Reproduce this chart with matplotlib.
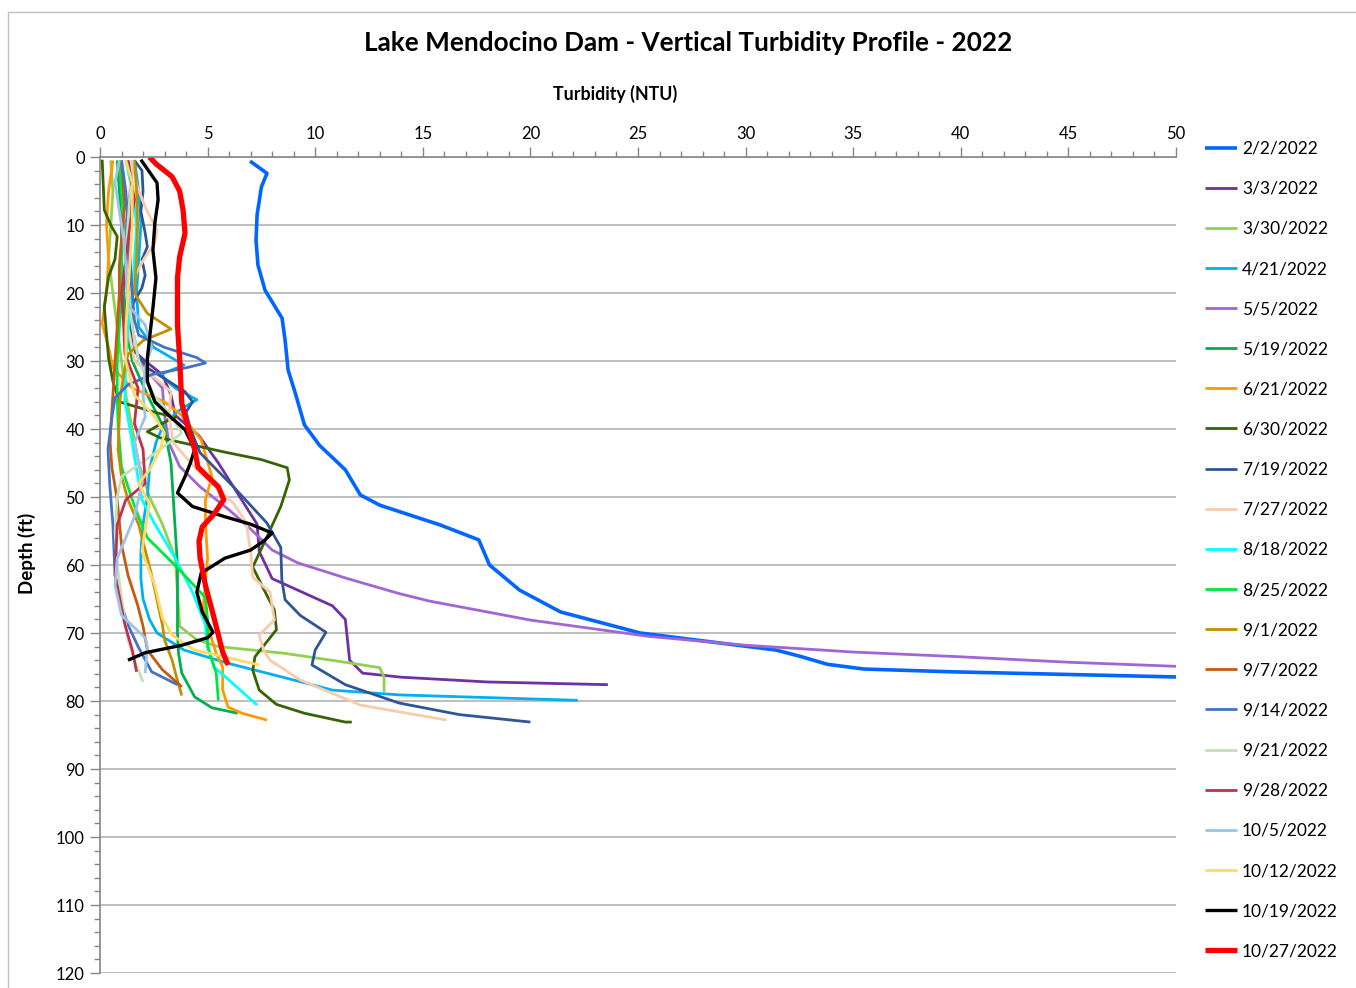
import matplotlib
matplotlib.use("Agg")
import matplotlib.pyplot as plt
from matplotlib.patches import Rectangle
from matplotlib.ticker import MultipleLocator

plt.rcParams['font.family'] = ['Lato', 'DejaVu Sans']

# depth (ft) / turbidity (NTU), one pair per survey date
d_0202 = [0.6, 2.4, 4.4, 8.5, 12.2, 15.9, 19.6, 23.7, 26.9, 31.3, 35, 39.4, 42.4, 46, 49.7, 51.2, 54.1, 56.3, 60, 63.7, 66.9, 70, 72.5, 73.4, 74.6, 75.3, 75.7, 76.1, 76.5]
t_0202 = [6.97, 7.76, 7.5, 7.3, 7.25, 7.34, 7.67, 8.46, 8.6, 8.74, 9.1, 9.5, 10.2, 11.4, 12.1, 13.0, 15.8, 17.6, 18.1, 19.5, 21.4, 25.1, 31.4, 32.5, 33.8, 35.5, 39.5, 45.0, 50.5]

d_0303 = [0.5, 5, 10, 15, 20, 25, 28, 30, 32, 35, 38, 41, 45, 50, 54, 58, 62, 66, 68, 71, 74, 75.9, 76.5, 77.2, 77.6]
t_0303 = [1.3, 1.5, 1.3, 1.2, 1.1, 1.2, 1.4, 2.1, 2.9, 3.3, 3.5, 4.6, 5.5, 6.5, 7.3, 7.4, 8.0, 10.8, 11.4, 11.5, 11.6, 12.2, 14.0, 18.0, 23.6]

d_0330 = [0.5, 5, 10, 15, 20, 25, 30, 35, 40, 45, 50, 54, 59, 64, 69, 71, 72, 73, 74.4, 75.1, 76.5, 78.7]
t_0330 = [0.5, 0.6, 0.5, 0.4, 0.6, 0.8, 1.0, 1.2, 1.5, 1.8, 2.3, 2.9, 3.5, 3.6, 3.7, 4.5, 5.5, 8.6, 11.6, 13.0, 13.2, 13.2]

d_0421 = [0.5, 5, 10, 15, 20, 25, 28, 30.6, 32, 34, 35.7, 37, 39, 42, 46, 50, 54, 58, 62, 65, 68, 70, 72.5, 74.5, 75.9, 77.4, 78.4, 79.1, 79.5, 79.9]
t_0421 = [1.6, 1.8, 1.9, 1.8, 1.7, 1.8, 2.5, 3.9, 2.8, 3.5, 4.5, 3.8, 3.0, 2.6, 2.3, 2.2, 2.0, 1.9, 1.9, 2.0, 2.3, 2.65, 3.9, 6.0, 7.75, 9.6, 10.8, 13.9, 18.0, 22.2]

d_0505 = [0.5, 5, 10, 15, 20, 25, 30, 34, 38, 42, 45.5, 48.5, 51.9, 54.4, 57.8, 59.7, 62, 64.2, 65.3, 68.1, 70.5, 71.8, 72.8, 73.5, 74.3, 74.9]
t_0505 = [1.5, 1.4, 1.2, 1.3, 1.4, 1.5, 1.8, 2.9, 3.0, 3.2, 3.7, 4.65, 6.0, 6.9, 8.0, 9.2, 11.5, 13.9, 15.3, 20.0, 25.5, 30.0, 35.0, 40.0, 45.0, 50.0]

d_0519 = [0.5, 5, 10, 15, 20, 25, 30, 35, 40, 45, 50, 55, 60, 65, 70, 73, 75.9, 79.4, 81, 81.8]
t_0519 = [0.8, 0.9, 1.0, 1.0, 1.1, 1.2, 1.5, 2.2, 3.0, 3.3, 3.4, 3.5, 3.6, 3.6, 3.6, 3.65, 3.8, 4.4, 5.2, 6.4]

d_0621 = [0.5, 5, 10, 15, 20, 24.5, 28, 31, 34, 36, 38, 41.6, 47, 50.4, 54, 59, 66, 70, 73, 75, 78.4, 80.9, 81.8, 82.8]
t_0621 = [0.6, 0.4, 0.3, 0.4, 0.3, 0.1, 0.4, 0.6, 1.5, 3.0, 3.8, 4.7, 5.2, 4.9, 4.9, 5.0, 4.8, 5.1, 5.4, 5.7, 5.7, 5.95, 6.6, 7.76]

d_0630 = [0.4, 4, 7.8, 10, 11.7, 15, 17.6, 22, 26, 29.6, 33, 36, 37.5, 38.3, 39.3, 40.4, 41.3, 42.6, 43.4, 44.5, 45.7, 47.5, 51.4, 55.9, 60.3, 63.5, 66.6, 69.5, 71.5, 73.5, 75.5, 78.4, 80.5, 81.8, 83.1, 83.1]
t_0630 = [0.1, 0.15, 0.2, 0.5, 0.8, 0.7, 0.4, 0.2, 0.3, 0.4, 0.6, 0.9, 2.5, 3.5, 2.8, 2.2, 2.8, 4.65, 5.8, 7.5, 8.7, 8.8, 8.4, 7.75, 7.1, 7.6, 8.1, 8.2, 7.7, 7.2, 7.1, 7.4, 8.2, 9.5, 11.4, 11.7]

d_0719 = [0.5, 2, 5, 8, 11.2, 13.2, 15.1, 17.4, 19.2, 21.8, 25, 28, 31, 33, 34.5, 36, 37.5, 40, 43.5, 48.5, 53.8, 57.4, 62.2, 65.1, 67.4, 69.9, 72.5, 74.7, 77.6, 80.3, 82, 83.1]
t_0719 = [1.6, 1.95, 2.0, 1.9, 2.1, 2.2, 1.95, 2.1, 1.95, 1.5, 1.4, 1.5, 2.2, 3.2, 3.95, 4.3, 4.0, 4.2, 4.65, 6.2, 7.75, 8.4, 8.45, 8.6, 9.3, 10.5, 10.0, 9.85, 11.4, 13.9, 16.7, 20.0]

d_0727 = [0.5, 4, 7.4, 10.7, 12.7, 14.7, 17, 20, 25, 30, 34.5, 38, 42, 46, 50.9, 53.8, 58.2, 61.8, 64, 68.1, 70.3, 72.5, 74, 76.9, 80.6, 82.8]
t_0727 = [1.5, 1.7, 2.1, 2.65, 2.55, 2.1, 1.7, 1.4, 1.3, 1.6, 3.3, 3.2, 3.4, 4.5, 6.2, 6.8, 7.0, 7.1, 7.9, 8.1, 7.4, 7.6, 7.9, 9.3, 12.1, 16.1]

d_0818 = [0.5, 5, 10, 15, 20, 25, 30, 35.7, 42, 46, 50.4, 54, 59, 64, 68.8, 71, 73, 75, 77.5, 80.6]
t_0818 = [1.2, 1.5, 1.7, 1.6, 1.5, 1.3, 1.2, 1.15, 1.5, 1.7, 1.95, 2.55, 3.5, 4.3, 4.9, 4.95, 5.1, 5.3, 6.2, 7.3]

d_0825 = [0.5, 5, 10, 15, 20, 25, 30, 35.7, 40, 45.6, 50.4, 53, 56, 60.4, 64.8, 68, 72, 75.9, 79.9]
t_0825 = [0.9, 1.0, 1.1, 1.0, 1.0, 0.9, 0.8, 0.8, 0.85, 1.0, 1.5, 1.8, 2.2, 3.6, 4.9, 5.0, 5.0, 5.4, 5.5]

d_0901 = [0.5, 5, 10, 15, 20, 23, 25.3, 27, 29, 32, 35.7, 43, 47, 50.4, 54.1, 61.5, 68.8, 71, 74, 77, 79.2]
t_0901 = [1.6, 1.7, 1.75, 1.7, 1.6, 2.2, 3.3, 2.0, 1.3, 1.1, 0.93, 0.84, 1.0, 1.3, 1.8, 2.4, 2.9, 3.0, 3.35, 3.6, 3.8]

d_0907 = [0.5, 5, 7, 12, 16, 20, 25, 30, 35, 40, 42, 45.6, 50.4, 57, 61.5, 65.9, 69, 72.5, 75.4, 77.9]
t_0907 = [1.0, 1.1, 1.15, 1.0, 0.9, 0.9, 0.8, 0.7, 0.6, 0.5, 0.47, 0.55, 0.8, 1.0, 1.3, 1.75, 2.0, 2.2, 2.9, 3.8]

d_0914 = [0.5, 5, 10, 15, 20, 24, 26.2, 28, 29.5, 30.3, 31, 32, 33.5, 35.4, 38.2, 43, 48, 54.1, 61.5, 65, 68.8, 72, 75.7, 77.6]
t_0914 = [1.0, 1.2, 1.3, 1.4, 1.5, 1.6, 1.8, 3.0, 4.5, 4.9, 4.0, 2.4, 1.3, 0.7, 0.56, 0.37, 0.45, 0.6, 0.7, 0.9, 1.3, 1.77, 2.4, 3.6]

d_0921 = [0.5, 5, 10, 15, 20, 25, 30, 35, 38, 40.6, 42.5, 44.6, 47, 50, 55, 60, 65, 71, 74, 77.2]
t_0921 = [1.5, 1.4, 1.3, 1.2, 1.3, 1.5, 1.8, 2.5, 3.3, 3.8, 3.0, 2.1, 1.0, 0.8, 0.7, 0.8, 1.0, 1.3, 1.6, 2.0]

d_0928 = [0.5, 6.3, 10, 15, 20, 25, 29, 34, 39.2, 43, 48, 50.4, 54.1, 61.5, 68.8, 72.5, 75.7]
t_0928 = [1.3, 1.6, 1.4, 1.2, 1.0, 1.1, 1.16, 1.77, 1.6, 2.0, 2.1, 1.2, 0.8, 0.7, 1.16, 1.5, 1.7]

d_1005 = [0.5, 3.8, 8, 12, 16, 21.8, 24.7, 28, 31, 35, 38.2, 42, 45, 48, 52.9, 56, 59, 63, 67.4, 70.7, 72, 75.9]
t_1005 = [0.9, 0.7, 0.9, 1.1, 1.2, 1.3, 2.1, 2.4, 2.1, 2.0, 2.1, 1.6, 1.8, 1.95, 1.6, 1.2, 0.8, 0.7, 1.0, 2.1, 2.2, 2.1]

d_1012 = [0.5, 3.8, 10, 15, 20, 25, 30, 35, 38, 40.6, 43, 46, 48, 51, 54.8, 58, 63, 67.8, 70.3, 71.5, 72.5, 74.7]
t_1012 = [1.2, 1.5, 1.5, 1.4, 1.3, 1.2, 1.2, 1.6, 2.5, 3.0, 2.8, 2.3, 1.8, 2.3, 2.1, 1.95, 2.55, 2.9, 3.35, 3.9, 4.4, 7.4]

d_1019 = [0.4, 3.8, 6.3, 9.7, 13.7, 17.8, 22.2, 29.6, 33, 36, 38, 40.1, 43, 45, 47, 49.4, 51.4, 52.9, 54, 55.3, 56.5, 57.8, 59, 61.2, 64, 66.9, 69.9, 70.7, 71.8, 72.9, 74]
t_1019 = [1.9, 2.65, 2.7, 2.55, 2.46, 2.6, 2.46, 2.2, 2.2, 2.55, 3.2, 3.95, 4.4, 4.2, 3.95, 3.6, 4.3, 5.8, 7.0, 8.0, 7.6, 7.0, 5.8, 4.7, 4.5, 4.75, 5.25, 5.0, 3.8, 2.1, 1.3]

d_1027 = [0, 1, 2.9, 5, 7.8, 11.2, 14.7, 17.8, 24.7, 29.6, 36.2, 40, 43, 45.6, 47, 48.5, 50.4, 52.5, 54.4, 56.5, 59, 63, 67.8, 72.8, 74.7]
t_1027 = [2.3, 2.6, 3.35, 3.7, 3.86, 3.95, 3.7, 3.6, 3.6, 3.7, 3.8, 4.1, 4.4, 4.55, 5.0, 5.5, 5.75, 5.3, 4.75, 4.6, 4.65, 4.9, 5.3, 5.7, 5.95]

labels = ['2/2/2022', '3/3/2022', '3/30/2022', '4/21/2022', '5/5/2022', '5/19/2022',
          '6/21/2022', '6/30/2022', '7/19/2022', '7/27/2022', '8/18/2022', '8/25/2022',
          '9/1/2022', '9/7/2022', '9/14/2022', '9/21/2022', '9/28/2022', '10/5/2022',
          '10/12/2022', '10/19/2022', '10/27/2022']
depths = [d_0202, d_0303, d_0330, d_0421, d_0505, d_0519, d_0621, d_0630, d_0719, d_0727,
          d_0818, d_0825, d_0901, d_0907, d_0914, d_0921, d_0928, d_1005, d_1012, d_1019, d_1027]
turbs = [t_0202, t_0303, t_0330, t_0421, t_0505, t_0519, t_0621, t_0630, t_0719, t_0727,
         t_0818, t_0825, t_0901, t_0907, t_0914, t_0921, t_0928, t_1005, t_1012, t_1019, t_1027]
colors = ['#0066FF', '#7030A0', '#92D050', '#00B0F0', '#A066D3', '#00B050', '#FF9900',
          '#376400', '#2F5597', '#F8CBAD', '#00FFFF', '#00E640', '#BF9000', '#C55A11',
          '#4472C4', '#C5E0B4', '#C0304F', '#9DC3E6', '#FFD966', '#000000', '#FF0000']
widths = [2.6] + [2.0] * 18 + [2.4, 3.8]

fig = plt.figure(figsize=(13.56, 9.88), dpi=100)
ax = fig.add_axes([100 / 1356, 1 - 973 / 988, 1076 / 1356, 816 / 988])

for d, t, c, w, lab in zip(depths, turbs, colors, widths, labels):
    ax.plot(t, d, color=c, lw=w, label=lab, solid_joinstyle='round', solid_capstyle='butt')

ax.set_xlim(0, 50)
ax.set_ylim(120, 0)
ax.xaxis.tick_top()
ax.xaxis.set_major_locator(MultipleLocator(5))
ax.xaxis.set_minor_locator(MultipleLocator(1))
ax.yaxis.set_major_locator(MultipleLocator(10))
ax.yaxis.set_minor_locator(MultipleLocator(2))
ax.tick_params(axis='both', which='major', length=7, width=1, color='#868686', labelsize=12, pad=4)
ax.tick_params(axis='both', which='minor', length=4, width=1, color='#868686')
ax.grid(axis='y', which='major', color='#B3B3B3', lw=1.2)
ax.set_axisbelow(True)
for s in ['right', 'bottom']:
    ax.spines[s].set_visible(False)
for s in ['left', 'top']:
    ax.spines[s].set_color('#868686')
    ax.spines[s].set_linewidth(1.2)

fig.text(615 / 1356, 1 - 94 / 988, 'Turbidity (NTU)', ha='center', va='center',
         fontsize=12.8, fontweight='bold')
fig.text(688 / 1356, 1 - 43 / 988, 'Lake Mendocino Dam - Vertical Turbidity Profile - 2022',
         ha='center', va='center', fontsize=18.8, fontweight='bold')
fig.text(27 / 1356, 1 - 553 / 988, 'Depth (ft)', rotation=90, ha='center', va='center',
         fontsize=13.5, fontweight='bold')

fig.legend(loc='upper left', bbox_to_anchor=(1189 / 1356, 1 - 125 / 988), frameon=False,
           fontsize=12.5, handlelength=1.85, handletextpad=0.3, labelspacing=1.39)

fig.patches.append(Rectangle((8 / 1356, -0.1), 1.2, 1 - 12 / 988 + 0.1, transform=fig.transFigure,
                             fill=False, edgecolor='#BFBFBF', lw=1))

fig.savefig('out.png', dpi=100)
